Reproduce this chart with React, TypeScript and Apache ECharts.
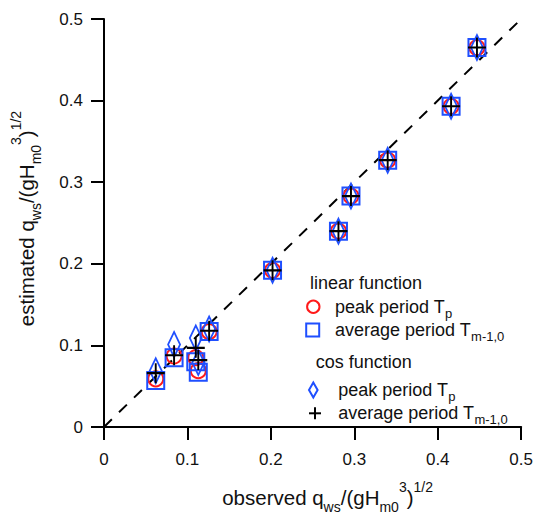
import React, { useEffect, useRef } from 'react';
import * as echarts from 'echarts';

// observed q_ws/(gH_m0^3)^1/2 (x values)
const observed = [0.062, 0.084, 0.110, 0.113, 0.126, 0.202, 0.281, 0.296, 0.340, 0.416, 0.447];
// estimated values, linear function
const linearPeak = [0.059, 0.087, 0.085, 0.069, 0.117, 0.192, 0.240, 0.283, 0.327, 0.393, 0.465];
const linearAvg = [0.057, 0.085, 0.080, 0.067, 0.117, 0.192, 0.240, 0.283, 0.327, 0.393, 0.465];
// estimated values, cos function
const cosPeak = [0.069, 0.101, 0.109, 0.079, 0.120, 0.192, 0.240, 0.283, 0.327, 0.393, 0.465];
const cosAvg = [0.066, 0.088, 0.097, 0.082, 0.118, 0.192, 0.240, 0.283, 0.327, 0.393, 0.465];
// 1:1 reference line
const diagonal = [[0, 0], [0.5, 0.5]];
const axisMin = 0;
const axisMax = 0.5;
const axisStep = 0.1;

const FONT = "'Liberation Sans', Arial, Helvetica, sans-serif";
const RED = '#ff1a1a';
const BLUE = '#1f4fff';
const INK = '#111111';

const nameRich = {
  a: { fontSize: 20.5, lineHeight: 34, fontFamily: FONT, color: INK },
  s: { fontSize: 14, lineHeight: 14, verticalAlign: 'bottom', fontFamily: FONT, color: INK },
  p: { fontSize: 14, lineHeight: 14, verticalAlign: 'top', fontFamily: FONT, color: INK },
};

const legendRich = {
  a: { fontSize: 18, lineHeight: 26, fontFamily: FONT, fill: INK },
  s: { fontSize: 13, lineHeight: 13, verticalAlign: 'bottom', fontFamily: FONT, fill: INK },
};

function pairs(ys: number[]) {
  return observed.map((x, i) => [x, ys[i]]);
}

function legendText(x: number, y: number, text: string) {
  return {
    type: 'text',
    x,
    y,
    silent: true,
    style: { text, rich: legendRich, fontSize: 18, fontFamily: FONT, fill: INK, align: 'left', verticalAlign: 'middle' },
  };
}

export default function App() {
  const ref = useRef<HTMLDivElement>(null);
  useEffect(() => {
    if (!ref.current) return;
    const chart = echarts.init(ref.current, undefined, { renderer: 'svg' });
    const axisCommon = {
      type: 'value',
      min: axisMin,
      max: axisMax,
      interval: axisStep,
      nameLocation: 'middle',
      axisLine: { show: true, lineStyle: { color: '#000', width: 2 } },
      axisTick: { show: true, inside: false, length: 13, lineStyle: { color: '#000', width: 2 } },
      splitLine: { show: false },
    };
    chart.setOption({
      animation: false,
      backgroundColor: '#ffffff',
      grid: { left: 104, right: 13.5, top: 19, bottom: 83.3 },
      xAxis: {
        ...axisCommon,
        name: '{a|observed q}{s|ws}{a|/(gH}{s|m0}{p|3}{a|)}{p|1/2}',
        nameGap: 53,
        nameTextStyle: { rich: nameRich, fontFamily: FONT, fontSize: 20.5, color: INK, padding: [0, 0, 0, 30] },
        axisLabel: { fontSize: 17, fontFamily: FONT, color: INK, margin: 24 },
      },
      yAxis: {
        ...axisCommon,
        name: '{a|estimated q}{s|ws}{a|/(gH}{s|m0}{p|3}{a|)}{p|1/2}',
        nameGap: 61,
        nameTextStyle: { rich: nameRich, fontFamily: FONT, fontSize: 20.5, color: INK, padding: [0, 0, 0, 9] },
        axisLabel: { fontSize: 17, fontFamily: FONT, color: INK, margin: 21 },
      },
      series: [
        {
          type: 'line',
          data: diagonal,
          symbol: 'none',
          silent: true,
          z: 1,
          lineStyle: { color: '#000', width: 2, type: [11, 10] },
        },
        {
          type: 'scatter',
          name: 'linear peak period',
          data: pairs(linearPeak),
          symbol: 'circle',
          symbolSize: 15,
          z: 2,
          itemStyle: { color: 'rgba(0,0,0,0)', borderColor: RED, borderWidth: 2, opacity: 1 },
        },
        {
          type: 'scatter',
          name: 'linear average period',
          data: pairs(linearAvg),
          symbol: 'rect',
          symbolSize: 17,
          z: 3,
          itemStyle: { color: 'rgba(0,0,0,0)', borderColor: BLUE, borderWidth: 2, opacity: 1 },
        },
        {
          type: 'scatter',
          name: 'cos peak period',
          data: pairs(cosPeak),
          symbol: 'diamond',
          symbolSize: [12, 25],
          z: 4,
          itemStyle: { color: 'rgba(0,0,0,0)', borderColor: BLUE, borderWidth: 2, opacity: 1 },
        },
        {
          type: 'scatter',
          name: 'cos average period',
          data: pairs(cosAvg),
          symbol: 'path://M0 10 L20 10 M10 0 L10 20',
          symbolSize: [18, 20],
          z: 5,
          itemStyle: { color: 'rgba(0,0,0,0)', borderColor: '#000', borderWidth: 2, opacity: 1 },
        },
      ],
      graphic: [
        legendText(310, 283, '{a|linear function}'),
        {
          type: 'circle',
          silent: true,
          shape: { cx: 313.3, cy: 306.7, r: 6.2 },
          style: { fill: 'none', stroke: RED, lineWidth: 2 },
        },
        legendText(335, 306.7, '{a|peak period T}{s|p}'),
        {
          type: 'rect',
          silent: true,
          shape: { x: 306.2, y: 323.5, width: 13, height: 13 },
          style: { fill: 'none', stroke: BLUE, lineWidth: 2 },
        },
        legendText(335, 330, '{a|average period T}{s|m-1,0}'),
        legendText(315.7, 361.7, '{a|cos function}'),
        {
          type: 'polygon',
          silent: true,
          shape: { points: [[313.3, 382.5], [317.6, 390], [313.3, 397.5], [309, 390]] },
          style: { fill: 'none', stroke: BLUE, lineWidth: 2 },
        },
        legendText(338.3, 390, '{a|peak period T}{s|p}'),
        {
          type: 'line',
          silent: true,
          shape: { x1: 309, y1: 413.3, x2: 321, y2: 413.3 },
          style: { stroke: '#000', lineWidth: 2 },
        },
        {
          type: 'line',
          silent: true,
          shape: { x1: 315, y1: 407.3, x2: 315, y2: 419.3 },
          style: { stroke: '#000', lineWidth: 2 },
        },
        legendText(338.3, 413.3, '{a|average period T}{s|m-1,0}'),
      ],
    });
    return () => chart.dispose();
  }, []);
  return (
    <div
      ref={ref}
      style={{ position: 'fixed', left: 0, top: 0, width: 536, height: 519, background: '#fff' }}
    />
  );
}
